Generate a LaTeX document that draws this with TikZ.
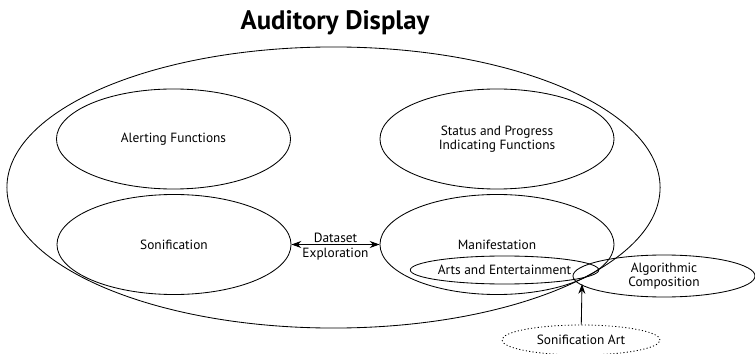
\documentclass[tikz,border=0pt]{standalone}
\usepackage{fontspec}
\setmainfont{PT Sans}
\usetikzlibrary{arrows.meta,positioning,shapes.geometric}

\begin{document}
\begin{tikzpicture}[
  x=0.025cm, y=-0.025cm,
  >={Stealth[length=7pt, width=5pt]},
  blob/.style={ellipse, draw, line width=0.6pt, inner sep=0pt, align=center,
    font=\fontsize{9.5}{10.2}\selectfont},
  bigblob/.style={blob, minimum width=5.85cm, minimum height=2.5cm},
  link/.style={line width=0.6pt}
]
\useasboundingbox (0,0) rectangle (755,354);
\node[font=\bfseries\fontsize{19}{21}\selectfont] (title) at (335,23) {Auditory Display};
% outer set and the four areas inside it
\node[blob, minimum width=16.325cm, minimum height=7.025cm] (display) at (333.5,187.5) {};
\node[bigblob] (alert) at (173.5,139) {Alerting Functions};
\node[bigblob] (status) at (497,139) {Status and Progress\\Indicating Functions};
\node[bigblob] (sonif) at (174,244.5) {Sonification};
\node[bigblob] (manif) at (497,244.5) {Manifestation};
% small areas around the meeting point
\node[blob, minimum width=4.375cm, minimum height=0.7cm] (arts) at (504.5,270) {Arts and Entertainment};
\node[blob, minimum width=4.55cm, minimum height=1.05cm] (algo) at (664,276) {Algorithmic\\Composition};
\node[blob, dash pattern=on 0.8pt off 1.6pt, minimum width=3.95cm, minimum height=0.75cm] (sonart) at (581,340) {Sonification Art};
\coordinate (meet) at (582,284);
\draw[link, ->] (sonart) -- (meet);
\draw[link, <->] (sonif) -- (manif)
  node[midway, yshift=-1.5pt, align=center, font=\fontsize{9.5}{10.2}\selectfont] {Dataset\\Exploration};
\end{tikzpicture}
\end{document}
